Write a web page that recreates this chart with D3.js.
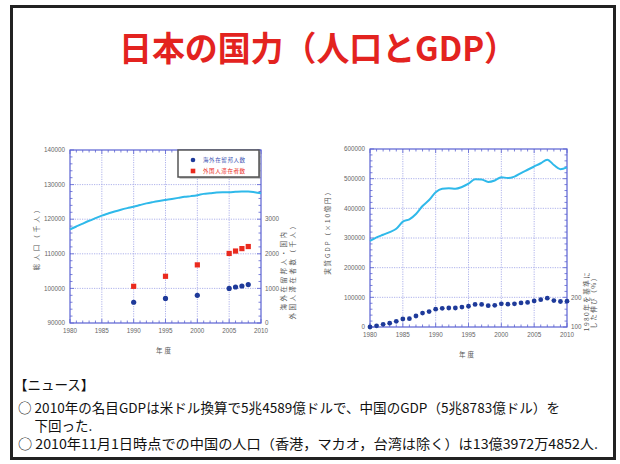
<!DOCTYPE html>
<html>
<head>
<meta charset="utf-8">
<script src="https://cdn.jsdelivr.net/npm/d3@7/dist/d3.min.js"></script>
<style>
body { margin: 0; background: #fff; }
text { font-family: "Noto Sans CJK JP", "Liberation Sans", sans-serif; }
</style>
</head>
<body>
<svg id="chart"></svg>
<script>
var width = 620,
    height = 464;

// ---- data ----
var popYears = [1980, 1981, 1982, 1983, 1984, 1985, 1986, 1987, 1988, 1989, 1990,
    1991, 1992, 1993, 1994, 1995, 1996, 1997, 1998, 1999, 2000,
    2001, 2002, 2003, 2004, 2005, 2006, 2007, 2008, 2009, 2010];
var population = [117060, 117900, 118730, 119540, 120300, 121050, 121660, 122240, 122750, 123200, 123610,
    124100, 124570, 124940, 125270, 125570, 125860, 126160, 126470, 126670, 126930,
    127320, 127490, 127690, 127790, 127800, 127900, 127980, 128000, 127800, 127500];

var residentYears = [1990, 1995, 2000, 2005, 2006, 2007, 2008];
var abroadJapanese = [600, 710, 800, 1000, 1040, 1070, 1110];   // 海外在留邦人数
var foreignResidents = [1060, 1350, 1680, 2010, 2080, 2150, 2210]; // 外国人滞在者数

var gdpYears = popYears;
var realGDP = [290000, 302000, 311000, 320000, 331000, 355000, 363000, 381000, 408000, 428000, 454000,
    466000, 468000, 466000, 472000, 483000, 498000, 497000, 489000, 494000, 505000,
    502000, 507000, 519000, 530000, 541000, 552000, 564000, 546000, 532000, 538000];
var gdpGrowth = [100, 104, 109, 113, 119, 127, 128, 137, 147, 152, 160,
    163, 164, 164, 167, 170, 176, 176, 172, 173, 178,
    177, 178, 181, 183, 188, 192, 197, 189, 186, 187];

var xTicks = [1980, 1985, 1990, 1995, 2000, 2005, 2010];
var popTicks = [90000, 100000, 110000, 120000, 130000, 140000];
var residentTicks = [0, 1000, 2000, 3000];
var gdpTicks = [0, 100000, 200000, 300000, 400000, 500000, 600000];
var growthTicks = [100, 200];

var legendNames = ["海外在留邦人数", "外国人滞在者数"];
var newsLines = [
    "【ニュース】",
    "○  2010年の名目GDPは米ドル換算で5兆4589億ドルで、中国のGDP（5兆8783億ドル）を",
    "　 下回った.",
    "○  2010年11月1日時点での中国の人口（香港，マカオ，台湾は除く）は13億3972万4852人."
];

var axisColor = "#5a62d2",
    gridColor = "#9aa0e6",
    lineColor = "#2fb9ea",
    dotColor = "#1e3a9a",
    redColor = "#ea2a1e",
    labelColor = "#666";

var svg = d3.select("#chart")
    .attr("width", width)
    .attr("height", height);

// outer frame
svg.append("rect")
    .attr("x", 11.5).attr("y", 6.5)
    .attr("width", 603).attr("height", 452)
    .style("fill", "#fff")
    .style("stroke", "#222")
    .style("stroke-width", 3);

// title
svg.append("text")
    .attr("x", 318).attr("y", 61)
    .attr("text-anchor", "middle")
    .attr("textLength", 398)
    .attr("lengthAdjust", "spacingAndGlyphs")
    .style("font-size", "34px")
    .style("font-weight", "bold")
    .style("fill", "#e3231f")
    .text("日本の国力（人口とGDP）");

// draws the frame, grid, ticks and labels of one panel
function drawPanel(box, x, y, yMinorStep, yTickValues, yFormat) {
    var g = svg.append("g");

    // grid
    g.selectAll(".vgrid")
        .data(xTicks.slice(1, -1))
        .enter().append("line")
        .attr("x1", function(d) { return x(d); })
        .attr("x2", function(d) { return x(d); })
        .attr("y1", box.top).attr("y2", box.bottom)
        .style("stroke", gridColor)
        .style("stroke-width", 0.8)
        .style("stroke-dasharray", "1.2,1.2");

    g.selectAll(".hgrid")
        .data(yTickValues.slice(1, -1))
        .enter().append("line")
        .attr("y1", function(d) { return y(d); })
        .attr("y2", function(d) { return y(d); })
        .attr("x1", box.left).attr("x2", box.right)
        .style("stroke", gridColor)
        .style("stroke-width", 0.8)
        .style("stroke-dasharray", "1.2,1.2");

    // minor ticks, inside on all four sides
    var yDom = y.domain();
    var yMinor = d3.range(yDom[0], yDom[1] + 1, yMinorStep);
    var xMinor = d3.range(1980, 2011, 1);
    var tickColor = axisColor;

    yMinor.forEach(function(v) {
        var len = (v - yDom[0]) % (yMinorStep * 5) === 0 ? 4 : 2.5;
        g.append("line").attr("x1", box.left).attr("x2", box.left + len)
            .attr("y1", y(v)).attr("y2", y(v))
            .style("stroke", tickColor).style("stroke-width", 0.8);
        g.append("line").attr("x1", box.right).attr("x2", box.right - len)
            .attr("y1", y(v)).attr("y2", y(v))
            .style("stroke", tickColor).style("stroke-width", 0.8);
    });
    xMinor.forEach(function(v) {
        var len = v % 5 === 0 ? 4 : 2.5;
        g.append("line").attr("y1", box.bottom).attr("y2", box.bottom - len)
            .attr("x1", x(v)).attr("x2", x(v))
            .style("stroke", tickColor).style("stroke-width", 0.8);
        g.append("line").attr("y1", box.top).attr("y2", box.top + len)
            .attr("x1", x(v)).attr("x2", x(v))
            .style("stroke", tickColor).style("stroke-width", 0.8);
    });

    // frame
    g.append("rect")
        .attr("x", box.left).attr("y", box.top)
        .attr("width", box.right - box.left)
        .attr("height", box.bottom - box.top)
        .style("fill", "none")
        .style("stroke", axisColor)
        .style("stroke-width", 1.2);

    // tick labels
    g.selectAll(".ylab")
        .data(yTickValues)
        .enter().append("text")
        .attr("x", box.left - 5)
        .attr("y", function(d) { return y(d) + 2.2; })
        .attr("text-anchor", "end")
        .style("font-size", "6.3px")
        .style("font-family", "Liberation Sans")
        .style("fill", labelColor)
        .text(yFormat);

    g.selectAll(".xlab")
        .data(xTicks)
        .enter().append("text")
        .attr("x", function(d) { return x(d); })
        .attr("y", box.bottom + 10)
        .attr("text-anchor", "middle")
        .style("font-size", "6.3px")
        .style("font-family", "Liberation Sans")
        .style("fill", labelColor)
        .text(function(d) { return d; });

    g.append("text")
        .attr("x", (box.left + box.right) / 2 - 1)
        .attr("y", box.bottom + 30)
        .attr("text-anchor", "middle")
        .style("font-size", "6.5px")
        .style("letter-spacing", "2px")
        .style("fill", "#555")
        .text("年度");

    return g;
}

function verticalLabel(lines, cx, cy, size, lineGap, spacing) {
    var t = svg.append("text")
        .attr("transform", "translate(" + cx + "," + cy + ") rotate(-90)")
        .attr("text-anchor", "middle")
        .style("font-size", size + "px")
        .style("letter-spacing", spacing + "px")
        .style("fill", "#555");
    lines.forEach(function(l, i) {
        t.append("tspan").attr("x", 0).attr("y", i * lineGap).text(l);
    });
}

// ---- left panel: population ----
var boxL = {left: 70, right: 261, top: 150, bottom: 323};
var xL = d3.scaleLinear().domain([1980, 2010]).range([boxL.left, boxL.right]);
var yL = d3.scaleLinear().domain([90000, 140000]).range([boxL.bottom, boxL.top]);
var yL2 = d3.scaleLinear().domain([0, 5000]).range([boxL.bottom, boxL.top]);

var gL = drawPanel(boxL, xL, yL, 2000, popTicks, function(d) { return d; });

gL.selectAll(".rlab")
    .data(residentTicks)
    .enter().append("text")
    .attr("x", boxL.right + 4)
    .attr("y", function(d) { return yL2(d) + 2.2; })
    .style("font-size", "6.3px")
    .style("font-family", "Liberation Sans")
    .style("fill", labelColor)
    .text(function(d) { return d; });

var popLine = d3.line()
    .x(function(d, i) { return xL(popYears[i]); })
    .y(function(d) { return yL(d); })
    .curve(d3.curveMonotoneX);

gL.append("path")
    .attr("d", popLine(population))
    .style("fill", "none")
    .style("stroke", lineColor)
    .style("stroke-width", 2);

gL.selectAll(".red")
    .data(foreignResidents)
    .enter().append("rect")
    .attr("x", function(d, i) { return xL(residentYears[i]) - 2.6; })
    .attr("y", function(d) { return yL2(d) - 2.6; })
    .attr("width", 5.2).attr("height", 5.2)
    .style("fill", redColor);

gL.selectAll(".blue")
    .data(abroadJapanese)
    .enter().append("circle")
    .attr("cx", function(d, i) { return xL(residentYears[i]); })
    .attr("cy", function(d) { return yL2(d); })
    .attr("r", 2.6)
    .style("fill", dotColor);

// legend
var leg = svg.append("g");
leg.append("rect")
    .attr("x", 179.5).attr("y", 151.5).attr("width", 81).attr("height", 27)
    .style("fill", "#999");
leg.append("rect")
    .attr("x", 178).attr("y", 150).attr("width", 81).attr("height", 27)
    .style("fill", "#fff")
    .style("stroke", "#555")
    .style("stroke-width", 1.5);
leg.append("circle").attr("cx", 193).attr("cy", 160).attr("r", 2.3).style("fill", dotColor);
leg.append("rect").attr("x", 190.7).attr("y", 168.7).attr("width", 4.6).attr("height", 4.6).style("fill", redColor);
leg.selectAll(".lt")
    .data(legendNames)
    .enter().append("text")
    .attr("x", 203)
    .attr("y", function(d, i) { return 162 + i * 11; })
    .style("font-size", "5.5px")
    .style("letter-spacing", "0.6px")
    .style("fill", function(d, i) { return i === 0 ? "#3a4fb0" : redColor; })
    .text(function(d) { return d; });

verticalLabel(["総人口（千人）"], 39, 237, 6.5, 0, 3);
verticalLabel(["海外在留邦人・国内", "外国人滞在者数（千人）"], 286, 270, 6.5, 8.5, 2.5);

// ---- right panel: GDP ----
var boxR = {left: 370, right: 567, top: 149, bottom: 327};
var xR = d3.scaleLinear().domain([1980, 2010]).range([boxR.left, boxR.right]);
var yR = d3.scaleLinear().domain([0, 600000]).range([boxR.bottom, boxR.top]);
var yR2 = d3.scaleLinear().domain([100, 700]).range([boxR.bottom, boxR.top]);

var gR = drawPanel(boxR, xR, yR, 20000, gdpTicks, function(d) { return d; });

gR.selectAll(".rlab")
    .data(growthTicks)
    .enter().append("text")
    .attr("x", boxR.right + 4)
    .attr("y", function(d) { return yR2(d) + 2.2; })
    .style("font-size", "6.3px")
    .style("font-family", "Liberation Sans")
    .style("fill", labelColor)
    .text(function(d) { return d; });

var gdpLine = d3.line()
    .x(function(d, i) { return xR(gdpYears[i]); })
    .y(function(d) { return yR(d); })
    .curve(d3.curveMonotoneX);

gR.append("path")
    .attr("d", gdpLine(realGDP))
    .style("fill", "none")
    .style("stroke", lineColor)
    .style("stroke-width", 2);

gR.selectAll(".blue")
    .data(gdpGrowth)
    .enter().append("circle")
    .attr("cx", function(d, i) { return xR(gdpYears[i]); })
    .attr("cy", function(d) { return yR2(d); })
    .attr("r", 2.4)
    .style("fill", dotColor);

verticalLabel(["実質GDP（×10億円）"], 330, 231, 6.5, 0, 1.8);
verticalLabel(["1980年を基準に", "した伸び（%）"], 589, 301, 6.5, 7, 1.5);

// ---- news ----
var newsY = [390, 413, 431, 449],
    newsLen = [null, 542, null, 580];
svg.selectAll(".news")
    .data(newsLines)
    .enter().append("text")
    .attr("x", function(d, i) { return i === 0 ? 14 : 18; })
    .attr("y", function(d, i) { return newsY[i]; })
    .attr("textLength", function(d, i) { return newsLen[i]; })
    .attr("lengthAdjust", "spacingAndGlyphs")
    .style("font-size", "13.5px")
    .style("fill", "#111")
    .text(function(d) { return d; });
</script>
</body>
</html>
